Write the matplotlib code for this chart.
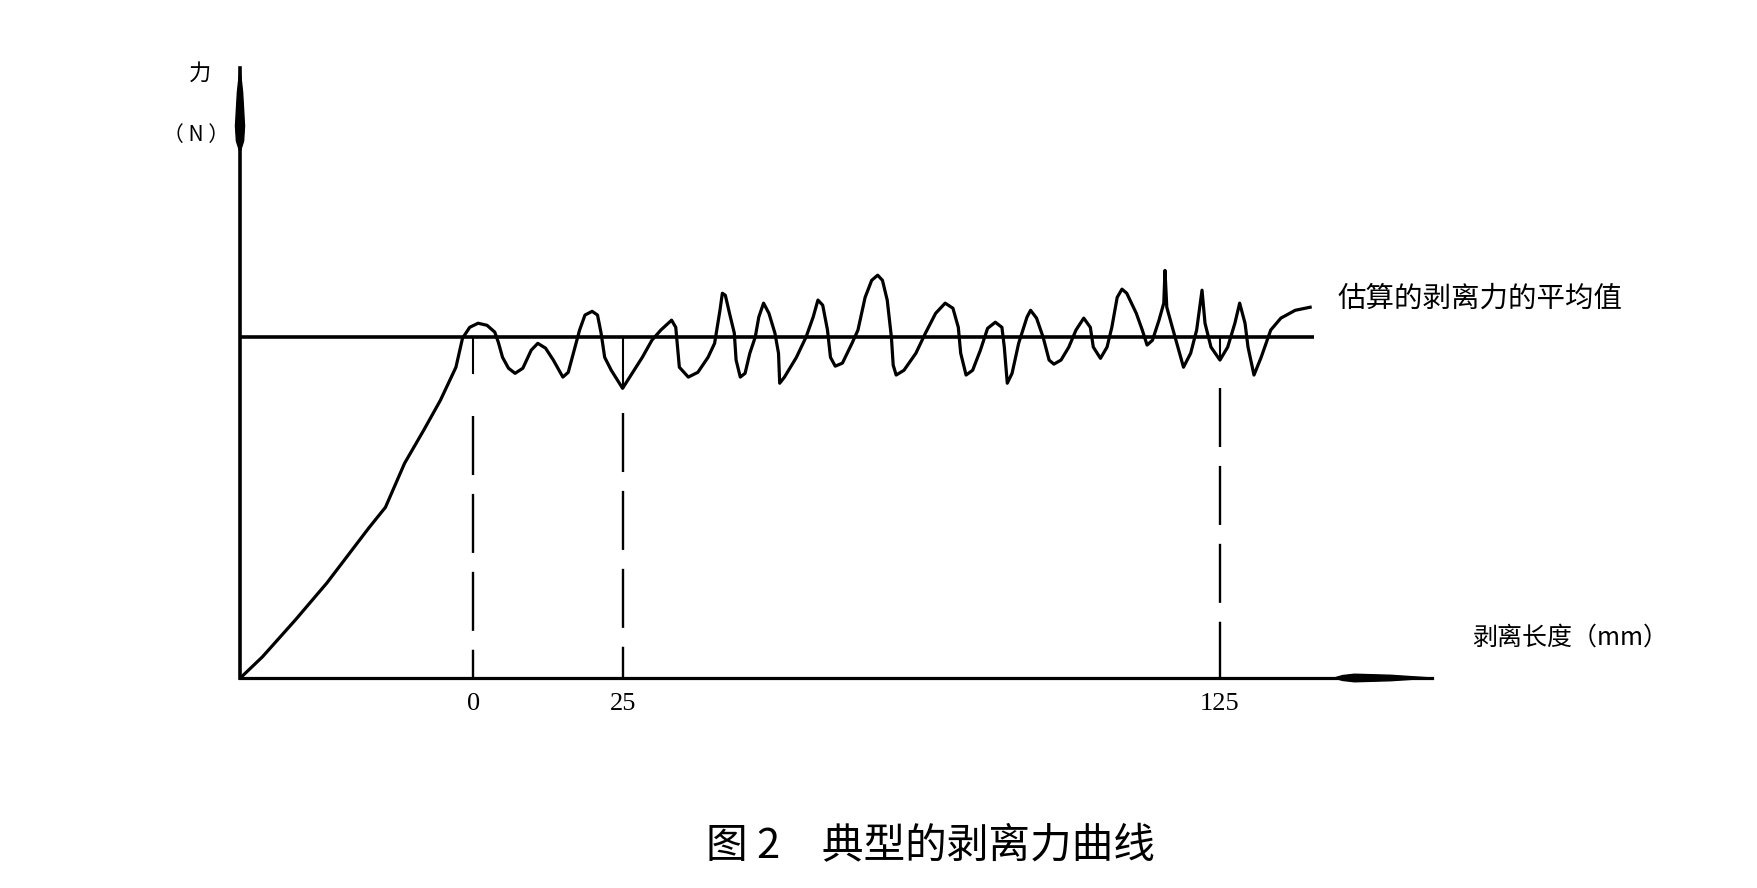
import matplotlib
matplotlib.use('Agg')
import matplotlib.pyplot as plt
from matplotlib.patches import Polygon

plt.rcParams['font.family'] = ['Noto Sans CJK SC', 'DejaVu Sans']

# 剥离长度(mm) 与 剥离力(任意单位, 平均值=10)
peel_x = [-39.0, -35.3, -29.8, -24.5, -17.5, -14.7, -11.5, -8.3, -5.5, -2.9, -1.8, -0.6,
          0.8, 2.3, 3.6, 4.2, 4.9, 5.9, 7.0, 8.3, 9.7, 10.8, 12.1, 13.4, 15.0, 15.9, 16.9,
          17.8, 18.7, 19.9, 20.8, 21.4, 22.0, 23.1, 25.0,
          26.6, 28.3, 29.9, 31.4, 33.2, 33.9, 34.2, 34.5, 36.0, 37.6, 39.3, 40.4, 41.3, 41.7,
          42.2, 42.9, 43.7, 44.0, 44.7, 45.5, 46.3, 47.2, 47.8, 48.6, 49.5, 50.5, 51.1, 51.3,
          52.1, 54.1, 55.7, 56.9, 57.7, 58.5, 59.3, 59.8, 60.6, 61.8, 63.4, 64.4, 65.6, 66.7,
          67.7, 68.5, 69.3, 70.0, 70.3, 70.8, 72.1, 74.1, 75.7, 77.4, 79.0, 80.3, 81.2, 81.6,
          82.5, 83.6, 84.9, 86.1, 87.4, 88.5, 88.9, 89.4, 90.2, 91.3, 92.7, 93.3, 94.3, 95.4,
          96.4, 97.2, 98.4, 99.7, 100.9, 102.2, 103.3, 103.8, 105.0, 106.1, 106.9, 107.8, 108.6,
          109.4, 111.0, 112.0, 112.8, 113.7, 114.8, 115.6, 115.8, 116.1, 117.3, 118.9, 120.1,
          121.1, 122.0, 122.5, 123.5, 125.0,
          126.3, 127.5, 128.3, 129.2, 129.7, 130.7, 131.9, 133.5, 135.2, 137.6, 140.1]
peel_f = [0, 0.62, 1.70, 2.79, 4.40, 5.01, 6.30, 7.27, 8.15, 9.12, 9.97, 10.29,
          10.41, 10.35, 10.15, 9.85, 9.41, 9.09, 8.94, 9.09, 9.62, 9.82, 9.68, 9.33, 8.83, 8.97, 9.62,
          10.21, 10.65, 10.76, 10.65, 10.12, 9.41, 9.03, 8.50,
          8.94, 9.41, 9.91, 10.21, 10.50, 10.29, 9.71, 9.12, 8.83, 8.97, 9.41, 9.82, 10.79, 11.29,
          11.23, 10.70, 10.12, 9.33, 8.83, 8.94, 9.53, 10.0, 10.59, 11.0, 10.70, 10.12, 9.53, 8.65,
          8.83, 9.41, 10.0, 10.59, 11.09, 10.94, 10.21, 9.41, 9.15, 9.24, 9.82, 10.21, 11.17, 11.67,
          11.82, 11.67, 11.09, 10.0, 9.18, 8.89, 9.03, 9.53, 10.12, 10.70, 11.0, 10.85, 10.29, 9.53,
          8.89, 9.03, 9.62, 10.26, 10.44, 10.29, 9.71, 8.65, 8.94, 9.82, 10.59, 10.79, 10.56, 10.0,
          9.33, 9.21, 9.33, 9.71, 10.21, 10.56, 10.29, 9.71, 9.38, 9.71, 10.29, 11.17, 11.41,
          11.29, 10.70, 10.21, 9.77, 9.91, 10.50, 11.0, 11.96, 10.88, 10.12, 9.12, 9.53,
          10.21, 11.38, 10.41, 9.71, 9.33,
          9.71, 10.41, 11.0, 10.41, 9.71, 8.89, 9.41, 10.21, 10.56, 10.79, 10.88]

mean_f = 10.0
mean_end = 140.7
mark_x = [0, 25, 125]
mark_low = [8.94, 8.50, 9.33]     # 竖线下端(曲线谷底)
dash_top = [7.68, 7.77, 8.50]     # 虚线起点
tick_labels = ['0', '25', '125']

fig = plt.figure(figsize=(17.58, 8.88), dpi=100)
ax = fig.add_axes([0.13652, 0.23649, 0.67804, 0.68694])
ax.set_xlim(-39.05, 160.5)
ax.set_ylim(0, 17.9)

for s in ['top', 'right']:
    ax.spines[s].set_visible(False)
ax.spines['left'].set_linewidth(2.6)
ax.spines['bottom'].set_linewidth(2.3)

# 平均值线
ax.plot([-39.05, mean_end], [mean_f, mean_f], color='black', lw=2.6, solid_capstyle='butt')
# 剥离力曲线
ax.plot(peel_x, peel_f, color='black', lw=2.3, solid_joinstyle='round')

# 0, 25, 125 处竖线
for xm, lo, top in zip(mark_x, mark_low, dash_top):
    ax.plot([xm, xm], [mean_f, lo], color='black', lw=1.5)
    ax.plot([xm, xm], [top, 0], color='black', lw=1.7, dashes=(25, 8))

ax.set_xticks(mark_x)
ax.set_xticklabels(tick_labels, family='Liberation Serif', fontsize=19)
ax.tick_params(axis='x', length=0, pad=11)
ax.set_yticks([])

# 坐标轴箭头(梭形)
ax.add_patch(Polygon([(0, 1.0), (0.0022, 0.96), (0.0038, 0.905), (0.0030, 0.88), (0.0, 0.862),
                      (-0.0030, 0.88), (-0.0038, 0.905), (-0.0022, 0.96)],
                     closed=True, transform=ax.transAxes, color='black', clip_on=False))
ax.add_patch(Polygon([(1.0, 0.0), (0.965, 0.0045), (0.935, 0.0062), (0.925, 0.004), (0.918, 0.0),
                      (0.925, -0.004), (0.935, -0.0062), (0.965, -0.0045)],
                     closed=True, transform=ax.transAxes, color='black', clip_on=False))

ax.text(-0.0336, 0.992, '力', transform=ax.transAxes, ha='center', va='center', fontsize=16)
ax.text(-0.037, 0.890, '（ N ）', transform=ax.transAxes, ha='center', va='center', fontsize=15)
ax.text(1.034, 0.066, '剥离长度（mm）', transform=ax.transAxes, ha='left', va='center', fontsize=18)
ax.text(144.6, 11.14, '估算的剥离力的平均值', ha='left', va='center', fontsize=20.5)

fig.text(0.529, 0.046, '图 2　典型的剥离力曲线', ha='center', va='center', fontsize=30)

fig.savefig('out.png', dpi=100, facecolor='white')
